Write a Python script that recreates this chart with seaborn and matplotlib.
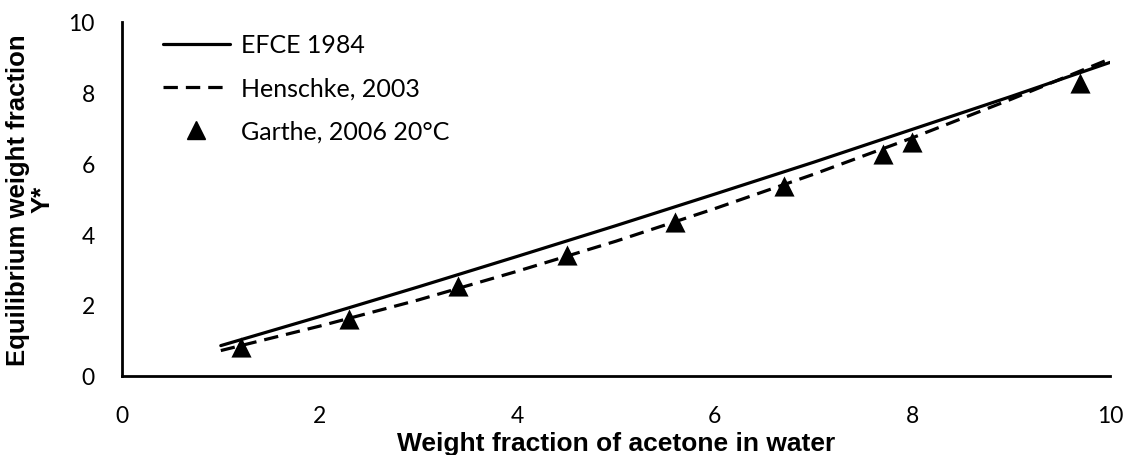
import numpy as np
import pandas as pd
import matplotlib
matplotlib.use("Agg")
import matplotlib.pyplot as plt
import seaborn as sns
from matplotlib.lines import Line2D

# Data
line_x = [1, 2, 3, 4, 5, 6, 7, 8, 9, 10]
efce_y = [0.85, 1.67, 2.51, 3.37, 4.24, 5.13, 6.03, 6.96, 7.89, 8.85]
henschke_y = [0.71, 1.40, 2.14, 2.95, 3.80, 4.72, 5.69, 6.72, 7.81, 8.95]
garthe_x = [1.2, 2.3, 3.4, 4.5, 5.6, 6.7, 7.7, 8.0, 9.7]
garthe_y = [0.80, 1.60, 2.52, 3.40, 4.35, 5.35, 6.25, 6.60, 8.28]
series_names = ["EFCE 1984", "Henschke, 2003", "Garthe, 2006 20°C"]
x_ticks = [0, 2, 4, 6, 8, 10]
y_ticks = [0, 2, 4, 6, 8, 10]
x_label = "Weight fraction of acetone in water"
y_label = "Equilibrium weight fraction\nY*"

sns.set_style("white")
plt.rcParams["font.family"] = ["Lato", "DejaVu Sans"]
plt.rcParams["text.color"] = "black"
plt.rcParams["axes.labelcolor"] = "black"

fig = plt.figure(figsize=(11.33, 4.56), dpi=100)
ax = fig.add_axes([122 / 1133, 1 - 376.7 / 456, (1110 - 122) / 1133, (376.7 - 22.7) / 456])

lines_df = pd.DataFrame({
    "x": line_x * 2,
    "y": efce_y + henschke_y,
    "series": [series_names[0]] * len(line_x) + [series_names[1]] * len(line_x),
})
sns.lineplot(data=lines_df, x="x", y="y", style="series",
             dashes={series_names[0]: "", series_names[1]: (4.5, 2.5)},
             color="black", linewidth=2.3, ax=ax, legend=False, sort=True)

pts_df = pd.DataFrame({"x": garthe_x, "y": garthe_y})
sns.scatterplot(data=pts_df, x="x", y="y", marker="^", s=210, color="black",
                edgecolor="black", linewidth=0, ax=ax, zorder=3, legend=False)

ax.set_xlim(0, 10)
ax.set_ylim(0, 10)
ax.set_xticks(x_ticks)
ax.set_yticks(y_ticks)
ax.tick_params(axis="both", direction="out", length=4.5, width=2, color="black",
               labelsize=16.5, labelcolor="black")
ax.tick_params(axis="y", pad=15)
ax.tick_params(axis="x", pad=16.5)
for side in ["top", "right"]:
    ax.spines[side].set_visible(False)
for side in ["left", "bottom"]:
    ax.spines[side].set_color("black")
    ax.spines[side].set_linewidth(2)

ax.set_xlabel(x_label, fontsize=19, fontweight="bold", color="black",
              family=["Liberation Sans", "DejaVu Sans"], labelpad=4)
ax.set_ylabel(y_label, fontsize=18.5, fontweight="bold", color="black",
              family=["Liberation Sans", "DejaVu Sans"], labelpad=10,
              linespacing=1.05)

handles = [
    Line2D([], [], color="black", lw=2.3, ls="-"),
    Line2D([], [], color="black", lw=2.3, ls=(0, (4.5, 2.5))),
    Line2D([], [], color="black", lw=0, marker="^", markersize=13),
]
leg = ax.legend(handles, series_names, loc="upper left", frameon=False,
                fontsize=18, handlelength=2.7, handletextpad=0.45,
                labelspacing=0.8, borderaxespad=0,
                bbox_to_anchor=(0.031, 0.995))
for t in leg.get_texts():
    t.set_color("black")

fig.savefig("out.png", dpi=100)
